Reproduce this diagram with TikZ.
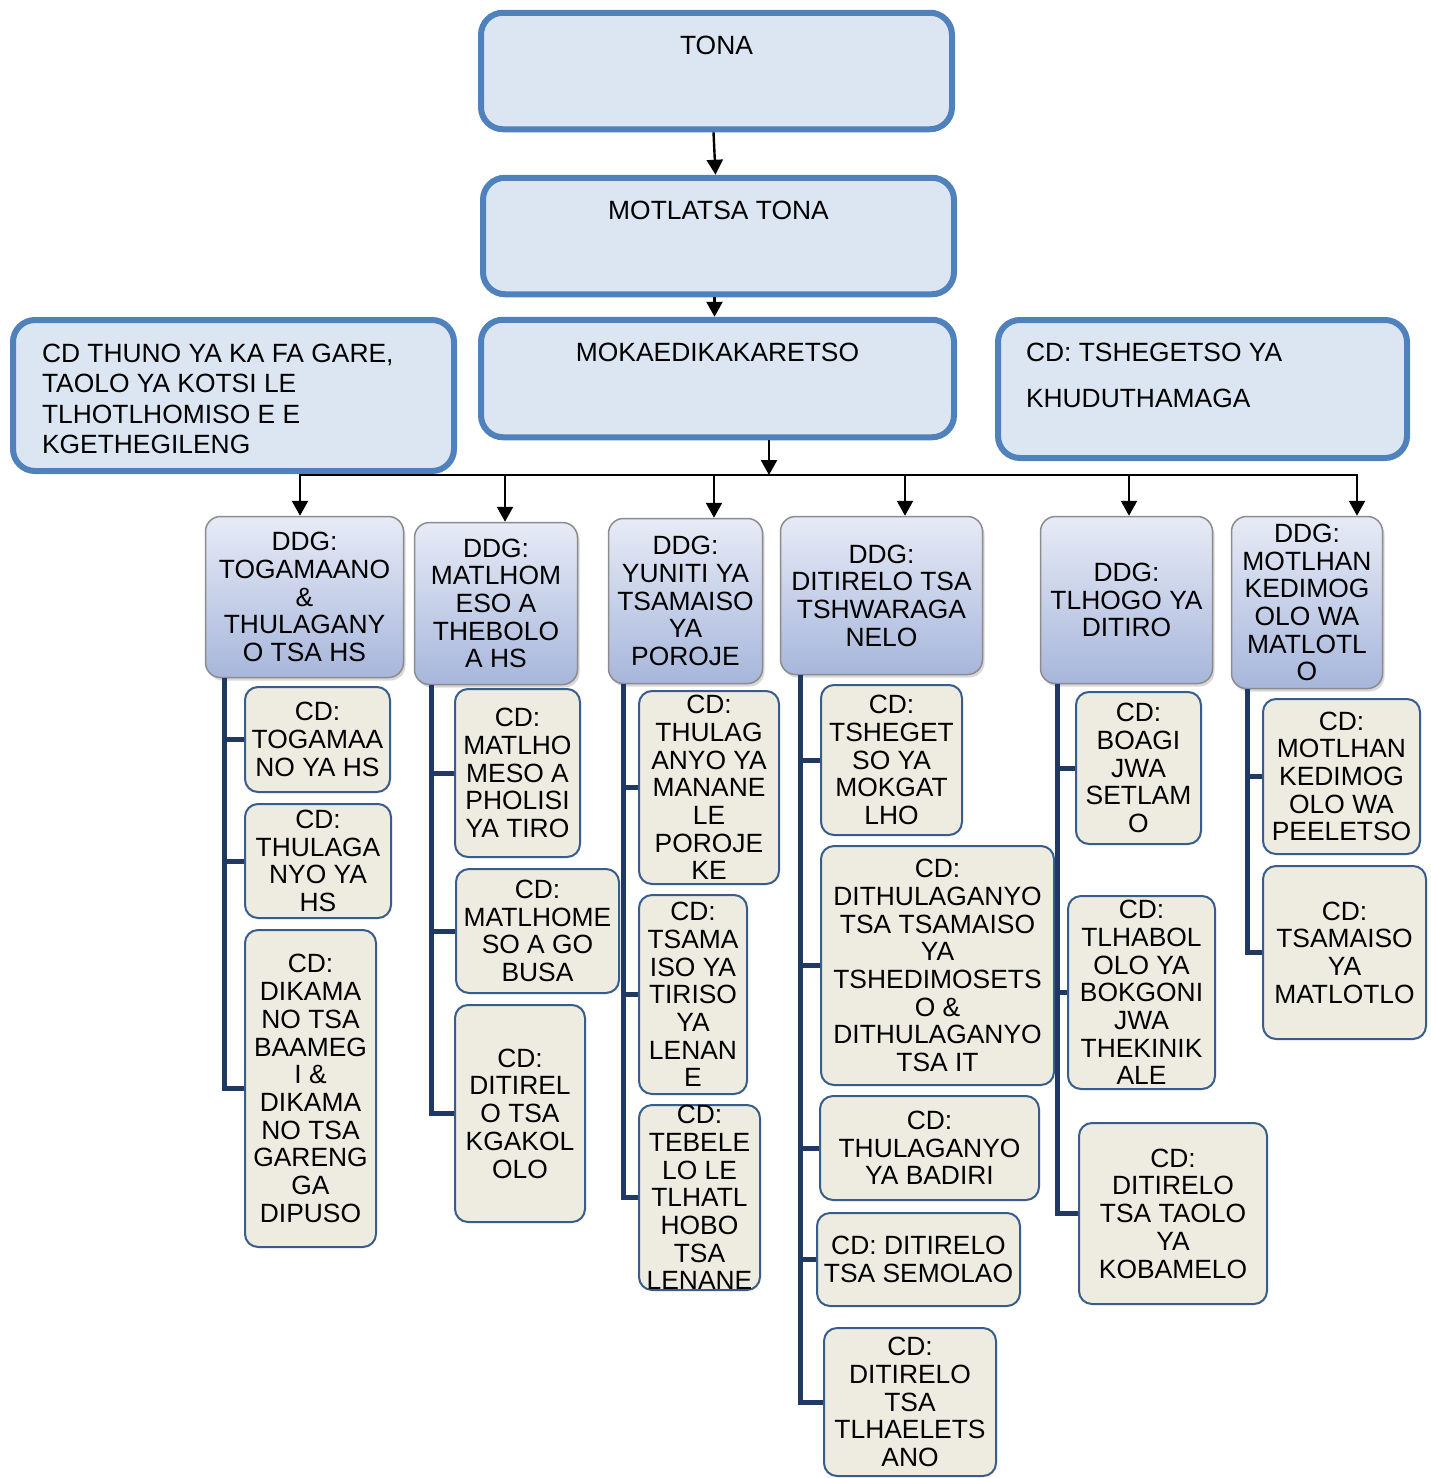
\documentclass[tikz,border=0pt]{standalone}
\usepackage{fontspec}
\setmainfont{Liberation Sans}
\usetikzlibrary{arrows.meta,shadows}
\definecolor{topblue}{RGB}{79,129,189}
\definecolor{topfill}{RGB}{220,230,242}
\definecolor{ddgtop}{RGB}{231,235,246}
\definecolor{ddgbot}{RGB}{167,182,219}
\definecolor{cdfill}{RGB}{238,236,225}
\definecolor{cdline}{RGB}{56,93,138}
\definecolor{linknavy}{RGB}{31,56,100}
\newcommand\chartfont{\fontsize{26.4}{27.7}\selectfont}
\tikzset{dims/.style 2 args={minimum width=#1pt,minimum height=#2pt}}

\begin{document}
\begin{tikzpicture}[x=1pt,y=-1pt,line width=2.4pt,>={Triangle[width=16pt,length=15pt]},
        topbox/.style={draw=topblue,line width=6pt,fill=topfill,rounded corners=22pt,inner sep=0pt,font=\chartfont,text height=41.5pt,text depth=75pt},
        ddg node/.style={draw=black!45,line width=1.5pt,rounded corners=15pt,top color=ddgtop,bottom color=ddgbot,drop shadow={shadow xshift=2pt,shadow yshift=-3pt,opacity=0.3},align=center,font=\chartfont,inner sep=0pt},
        cd node/.style={draw=cdline,line width=2pt,rounded corners=13pt,fill=cdfill,align=center,font=\chartfont,inner sep=0pt},
        bracket/.style={draw=linknavy,line width=5pt}]

    \fill[white,use as bounding box] (0,0) rectangle (1431,1478);

    % top of the chart
    \node[topbox,minimum width=471pt] (tona) at (716.5,71) {TONA};
    \node[topbox,minimum width=471pt] (motlatsa) at (718.5,236) {MOTLATSA TONA};
    \node[topbox,minimum width=473pt,text depth=76pt] (mokaedi) at (717.5,378.5) {MOKAEDIKAKARETSO};
    \node[topbox,minimum width=441pt,text height=42.5pt,text depth=108.5pt] (left) at (233.5,395.5)
        {\parbox[t]{383pt}{\raggedright\fontsize{26.4}{30.3}\selectfont CD THUNO YA KA FA GARE,\\TAOLO YA KOTSI LE\\TLHOTLHOMISO E E\\KGETHEGILENG}};
    \node[topbox,minimum width=409pt,text depth=96.5pt] (right) at (1202.5,389)
        {\parbox[t]{353pt}{\raggedright CD: TSHEGETSO YA\\[18.3pt]KHUDUTHAMAGA}};

    % DDG row
    \node[ddg node,dims={198}{161}] (d1) at (304.5,597) {DDG:\\TOGAMAANO\\\&\\THULAGANY\\O TSA HS};
    \node[ddg node,dims={163}{162}] (d2) at (496,603.5) {DDG:\\MATLHOM\\ESO A\\THEBOLO\\A HS};
    \node[ddg node,dims={154}{165}] (d3) at (685.5,601) {DDG:\\YUNITI YA\\TSAMAISO\\YA\\POROJE};
    \node[ddg node,dims={202}{158}] (d4) at (881.5,595.5) {DDG:\\DITIRELO TSA\\TSHWARAGA\\NELO};
    \node[ddg node,dims={172}{167}] (d5) at (1126.5,600) {DDG:\\TLHOGO YA\\DITIRO};
    \node[ddg node,dims={151}{172}] (d6) at (1307,602.5) {DDG:\\MOTLHAN\\KEDIMOG\\OLO WA\\MATLOTL\\O};

    % CD boxes
    \node[cd node,dims={145}{105}] (c1a) at (317.5,739.5) {CD:\\TOGAMAA\\NO YA HS};
    \node[cd node,dims={146}{114}] (c1b) at (318,861) {CD:\\THULAGA\\NYO YA\\HS};
    \node[cd node,dims={131}{317}] (c1c) at (310.5,1088.5) {CD:\\DIKAMA\\NO TSA\\BAAMEG\\I \&\\DIKAMA\\NO TSA\\GARENG\\GA\\DIPUSO};

    \node[cd node,dims={125}{168}] (c2a) at (517.5,773) {CD:\\MATLHO\\MESO A\\PHOLISI\\YA TIRO};
    \node[cd node,dims={163}{124}] (c2b) at (537.5,931) {CD:\\MATLHOME\\SO A GO\\BUSA};
    \node[cd node,dims={130}{217}] (c2c) at (520,1113.5) {CD:\\DITIREL\\O TSA\\KGAKOL\\OLO};

    \node[cd node,dims={140}{193}] (c3a) at (709,787.5) {CD:\\THULAG\\ANYO YA\\MANANE\\LE\\POROJE\\KE};
    \node[cd node,dims={108}{199}] (c3b) at (693,994.5) {CD:\\TSAMA\\ISO YA\\TIRISO\\YA\\LENAN\\E};
    \node[cd node,dims={121}{185}] (c3c) at (699.5,1197.5) {CD:\\TEBELE\\LO LE\\TLHATL\\HOBO\\TSA\\LENANE};

    \node[cd node,dims={141}{150}] (c4a) at (891.5,760) {CD:\\TSHEGET\\SO YA\\MOKGAT\\LHO};
    \node[cd node,dims={233}{239}] (c4b) at (937.5,965.5) {CD:\\DITHULAGANYO\\TSA TSAMAISO\\YA\\TSHEDIMOSETS\\O \&\\DITHULAGANYO\\TSA IT};
    \node[cd node,dims={219}{104}] (c4c) at (929.5,1148) {CD:\\THULAGANYO\\YA BADIRI};
    \node[cd node,dims={203}{93}] (c4d) at (918.5,1259.5) {CD: DITIRELO\\TSA SEMOLAO};
    \node[cd node,dims={172}{148}] (c4e) at (910,1402) {CD:\\DITIRELO\\TSA\\TLHAELETS\\ANO};

    \node[cd node,dims={125}{152}] (c5a) at (1138.5,768) {CD:\\BOAGI\\JWA\\SETLAM\\O};
    \node[cd node,dims={147}{193}] (c5b) at (1141.5,992.5) {CD:\\TLHABOL\\OLO YA\\BOKGONI\\JWA\\THEKINIK\\ALE};
    \node[cd node,dims={188}{181}] (c5c) at (1173,1213.5) {CD:\\DITIRELO\\TSA TAOLO\\YA\\KOBAMELO};

    \node[cd node,dims={157}{155}] (c6a) at (1341.5,776.5) {CD:\\MOTLHAN\\KEDIMOG\\OLO WA\\PEELETSO};
    \node[cd node,dims={163}{173}] (c6b) at (1344.5,952.5) {CD:\\TSAMAISO\\YA\\MATLOTLO};

    % arrows down the chart
    \path[->]
    ([xshift=-3pt]tona.south) edge ([xshift=-3pt]motlatsa.north)
    ([xshift=-4pt]motlatsa.south) edge ([xshift=-4pt]motlatsa.south |- mokaedi.north);

    \coordinate (hub) at (769,475);
    \coordinate (b1) at (300,475);
    \coordinate (b2) at (505,475);
    \coordinate (b3) at (714,475);
    \coordinate (b4) at (905,475);
    \coordinate (b5) at (1129,475);
    \coordinate (b6) at (1357,475);

    \draw[line width=2pt,line cap=rect] (b1) -- (b6);
    \path[->]
    (mokaedi.south -| hub) edge (hub)
    (b1) edge (b1 |- d1.north)
    (b2) edge (b2 |- d2.north)
    (b3) edge (b3 |- d3.north)
    (b4) edge (b4 |- d4.north)
    (b5) edge (b5 |- d5.north)
    (b6) edge (b6 |- d6.north);

    % brackets from each DDG to its CDs
    \coordinate (v1) at (224,0 |- d1.south);
    \coordinate (v2) at (431,0 |- d2.south);
    \coordinate (v3) at (623,0 |- d3.south);
    \coordinate (v4) at (800,0 |- d4.south);
    \coordinate (v5) at (1057,0 |- d5.south);
    \coordinate (v6) at (1247,0 |- d6.south);

    \draw[bracket] (v1) |- (c1a.west) (v1) |- (c1b.west) (v1) |- (c1c.west);
    \draw[bracket] (v2) |- (c2a.west) (v2) |- (c2b.west) (v2) |- (c2c.west);
    \draw[bracket] (v3) |- (c3a.west) (v3) |- (c3b.west) (v3) |- (c3c.west);
    \draw[bracket] (v4) |- (c4a.west) (v4) |- (c4b.west) (v4) |- (c4c.west) (v4) |- (c4d.west) (v4) |- (c4e.west);
    \draw[bracket] (v5) |- (c5a.west) (v5) |- (c5b.west) (v5) |- (c5c.west);
    \draw[bracket] (v6) |- (c6a.west) (v6) |- (c6b.west);

\end{tikzpicture}
\end{document}
